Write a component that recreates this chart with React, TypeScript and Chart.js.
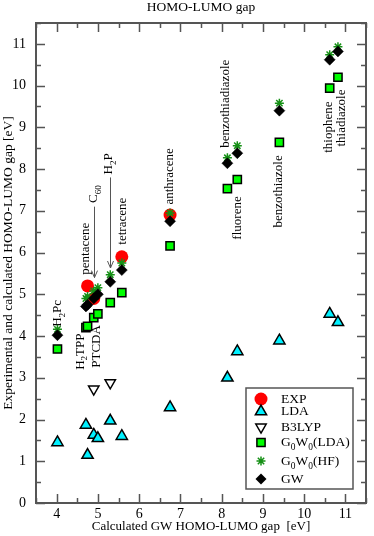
import React, { useEffect, useRef } from 'react';
import { Chart, registerables } from 'chart.js';

Chart.register(...registerables);

const FONT = '"Liberation Serif", "Times New Roman", serif';

// molecules, ordered by GW gap
const molecules = ['H2Pc', 'H2TPP', 'pentacene', 'C60', 'PTCDA', 'H2P', 'tetracene', 'anthracene', 'fluorene', 'benzothiadiazole', 'benzothiazole', 'thiophene', 'thiadiazole'];
// calculated GW HOMO-LUMO gap [eV] (x axis, and GW series)
const gwGap = [4.02, 4.71, 4.75, 4.9, 5.0, 5.3, 5.58, 6.75, 8.14, 8.38, 9.4, 10.62, 10.82];
const expGap: (number | null)[] = [null, null, 5.2, 4.9, null, null, 5.9, 6.9, null, null, null, null, null];
const ldaGap = [1.45, 1.87, 1.15, 1.63, 1.55, 1.97, 1.6, 2.29, 3.0, 3.63, 3.89, 4.53, 4.33];
const b3lypGap: (number | null)[] = [null, null, null, 2.73, null, 2.88, null, null, null, null, null, null, null];
const g0w0LdaGap = [3.69, 4.2, 4.23, 4.44, 4.53, 4.8, 5.04, 6.16, 7.53, 7.75, 8.64, 9.94, 10.2];
const g0w0HfGap = [4.16, 4.9, 4.95, 5.08, 5.16, 5.47, 5.75, 6.95, 8.27, 8.56, 9.58, 10.74, 10.93];

const xTicks = [4, 5, 6, 7, 8, 9, 10, 11];
const yTicks = [0, 1, 2, 3, 4, 5, 6, 7, 8, 9, 10, 11];

// rotated molecule labels: text, x (data), y where text starts (data)
const labelText = ['H_2Pc', 'H_2TPP', 'PTCDA', 'pentacene', 'C_{60}', 'H_2P', 'tetracene', 'anthracene', 'fluorene', 'benzothiadiazole', 'benzothiazole', 'thiophene', 'thiadiazole'];
const labelX = [4.02, 4.57, 4.98, 4.69, 4.9, 5.26, 5.6, 6.74, 8.38, 8.1, 9.39, 10.6, 10.9];
const labelY = [4.22, 3.19, 3.24, 5.47, 7.19, 7.87, 6.19, 7.15, 6.31, 8.51, 6.6, 8.39, 8.54];

// arrows: x, from y, to y
const arrowX = [4.9, 5.3];
const arrowFrom = [7.1, 7.8];
const arrowTo = [5.4, 5.63];

const legendNames = ['EXP', 'LDA', 'B3LYP', 'G_0W_0(LDA)', 'G_0W_0(HF)', 'GW'];

const mk = (ys: (number | null)[]) =>
  gwGap.map((x, i) => (ys[i] == null ? null : { x, y: ys[i] as number })).filter((p) => p !== null) as { x: number; y: number }[];

function parseRich(s: string) {
  const segs: { t: string; sub: boolean }[] = [];
  let buf = '';
  let i = 0;
  while (i < s.length) {
    if (s[i] === '_') {
      if (buf) { segs.push({ t: buf, sub: false }); buf = ''; }
      if (s[i + 1] === '{') {
        const j = s.indexOf('}', i);
        segs.push({ t: s.slice(i + 2, j), sub: true });
        i = j + 1;
      } else {
        segs.push({ t: s[i + 1], sub: true });
        i += 2;
      }
    } else {
      buf += s[i];
      i++;
    }
  }
  if (buf) segs.push({ t: buf, sub: false });
  return segs;
}

function drawRich(ctx: CanvasRenderingContext2D, s: string, x: number, y: number, size: number) {
  let cx = x;
  ctx.textAlign = 'left';
  ctx.textBaseline = 'middle';
  for (const seg of parseRich(s)) {
    const fs = seg.sub ? size * 0.7 : size;
    ctx.font = `${fs}px ${FONT}`;
    ctx.fillText(seg.t, cx, y + (seg.sub ? size * 0.38 : 0));
    cx += ctx.measureText(seg.t).width;
  }
}

function drawSymbol(ctx: CanvasRenderingContext2D, kind: number, x: number, y: number) {
  ctx.save();
  ctx.beginPath();
  if (kind === 0) {
    ctx.arc(x, y, 6.5, 0, Math.PI * 2);
    ctx.fillStyle = '#ff0000';
    ctx.fill();
  } else if (kind === 1 || kind === 2) {
    const r = kind === 1 ? 6.5 : 6;
    const s = kind === 1 ? 1 : -1;
    for (let k = 0; k < 3; k++) {
      const a = (k * 2 * Math.PI) / 3;
      const px = x + Math.sin(a) * r;
      const py = y - s * Math.cos(a) * r;
      if (k === 0) ctx.moveTo(px, py); else ctx.lineTo(px, py);
    }
    ctx.closePath();
    ctx.fillStyle = kind === 1 ? '#00f0ff' : '#ffffff';
    ctx.fill();
    ctx.lineWidth = 1.5;
    ctx.strokeStyle = '#000';
    ctx.stroke();
  } else if (kind === 3) {
    const h = 5.8 * Math.SQRT1_2;
    ctx.rect(x - h, y - h, 2 * h, 2 * h);
    ctx.fillStyle = '#00ff00';
    ctx.fill();
    ctx.lineWidth = 1.5;
    ctx.strokeStyle = '#000';
    ctx.stroke();
  } else if (kind === 4) {
    const r = 4.5;
    for (let k = 0; k < 4; k++) {
      const a = (k * Math.PI) / 4;
      ctx.moveTo(x - Math.cos(a) * r, y - Math.sin(a) * r);
      ctx.lineTo(x + Math.cos(a) * r, y + Math.sin(a) * r);
    }
    ctx.lineWidth = 1.5;
    ctx.strokeStyle = '#159015';
    ctx.stroke();
  } else {
    const r = 5.5;
    ctx.moveTo(x, y - r);
    ctx.lineTo(x + r, y);
    ctx.lineTo(x, y + r);
    ctx.lineTo(x - r, y);
    ctx.closePath();
    ctx.fillStyle = '#000';
    ctx.fill();
  }
  ctx.restore();
}

const decorPlugin = {
  id: 'decor',
  beforeDatasetsDraw(chart: any) {
    const { ctx, chartArea: a, scales } = chart;
    const xs = scales.x;
    const ys = scales.y;
    ctx.save();
    ctx.strokeStyle = '#555';
    ctx.lineWidth = 1.5;
    ctx.beginPath();
    for (let v = 3.5; v <= 11.5001; v += 0.5) {
      const major = Math.abs(v - Math.round(v)) < 1e-6;
      const L = major ? 9 : 5;
      const p = Math.round(xs.getPixelForValue(v)) + 0.5;
      ctx.moveTo(p, a.bottom); ctx.lineTo(p, a.bottom - L);
      ctx.moveTo(p, a.top); ctx.lineTo(p, a.top + L);
    }
    for (let v = 0; v <= 11.5001; v += 0.5) {
      const major = Math.abs(v - Math.round(v)) < 1e-6;
      const L = major ? 9 : 5;
      const p = Math.round(ys.getPixelForValue(v)) + 0.5;
      ctx.moveTo(a.left, p); ctx.lineTo(a.left + L, p);
      ctx.moveTo(a.right, p); ctx.lineTo(a.right - L, p);
    }
    ctx.stroke();
    ctx.lineWidth = 2;
    ctx.strokeRect(a.left, a.top, a.right - a.left, a.bottom - a.top);

    // title
    ctx.fillStyle = '#000';
    ctx.font = `13.5px ${FONT}`;
    ctx.textAlign = 'center';
    ctx.textBaseline = 'alphabetic';
    ctx.fillText('HOMO-LUMO gap', (a.left + a.right) / 2, 11);

    // arrows
    ctx.strokeStyle = '#555';
    ctx.lineWidth = 1;
    for (let i = 0; i < arrowX.length; i++) {
      const px = Math.round(xs.getPixelForValue(arrowX[i])) + 0.5;
      const y1 = ys.getPixelForValue(arrowFrom[i]);
      const y2 = ys.getPixelForValue(arrowTo[i]);
      ctx.beginPath();
      ctx.moveTo(px, y1); ctx.lineTo(px, y2);
      ctx.moveTo(px - 3, y2 - 7); ctx.lineTo(px, y2); ctx.lineTo(px + 3, y2 - 7);
      ctx.stroke();
    }

    // rotated labels
    ctx.fillStyle = '#000';
    for (let i = 0; i < labelText.length; i++) {
      const px = xs.getPixelForValue(labelX[i]);
      const py = ys.getPixelForValue(labelY[i]);
      ctx.save();
      ctx.translate(px, py);
      ctx.rotate(-Math.PI / 2);
      drawRich(ctx, labelText[i], 0, 0, 13);
      ctx.restore();
    }
    ctx.restore();
  },
  afterDraw(chart: any) {
    const { ctx, chartArea: a } = chart;
    ctx.save();
    const bx = a.right - 120, by = a.bottom - 115, bw = 107, bh = 101;
    ctx.fillStyle = '#fff';
    ctx.fillRect(bx, by, bw, bh);
    ctx.strokeStyle = '#555';
    ctx.lineWidth = 1.5;
    ctx.strokeRect(bx, by, bw, bh);
    const rowY = [11, 23.5, 39, 54.5, 73, 91];
    ctx.fillStyle = '#000';
    for (let i = 0; i < legendNames.length; i++) {
      drawSymbol(ctx, i, bx + 15, by + rowY[i]);
      ctx.fillStyle = '#000';
      drawRich(ctx, legendNames[i], bx + 35, by + rowY[i], 13.5);
    }
    ctx.restore();
  },
};

export default function App() {
  const ref = useRef<HTMLCanvasElement | null>(null);
  useEffect(() => {
    if (!ref.current) return;
    const tickFont = { family: FONT, size: 14 };
    const chart = new Chart(ref.current, {
      type: 'scatter',
      data: {
        datasets: [
          { label: 'GW', data: mk(gwGap), pointStyle: 'rectRot', pointRadius: 5.5, backgroundColor: '#000', borderColor: '#000', borderWidth: 0.5, order: 0 },
          { label: 'G0W0(HF)', data: mk(g0w0HfGap), pointStyle: 'star', pointRadius: 4.5, backgroundColor: '#159015', borderColor: '#159015', borderWidth: 1.5, order: 1 },
          { label: 'G0W0(LDA)', data: mk(g0w0LdaGap), pointStyle: 'rect', pointRadius: 5.8, backgroundColor: '#00ff00', borderColor: '#000', borderWidth: 1.5, order: 2 },
          { label: 'B3LYP', data: mk(b3lypGap), pointStyle: 'triangle', rotation: 180, pointRadius: 6, backgroundColor: '#fff', borderColor: '#000', borderWidth: 1.5, order: 3 },
          { label: 'LDA', data: mk(ldaGap), pointStyle: 'triangle', pointRadius: 6.5, backgroundColor: '#00f0ff', borderColor: '#000', borderWidth: 1.5, order: 4 },
          { label: 'EXP', data: mk(expGap), pointStyle: 'circle', pointRadius: 6.5, backgroundColor: '#ff0000', borderColor: '#ff0000', borderWidth: 0, order: 5 },
        ] as any,
      },
      options: {
        animation: false,
        responsive: false,
        events: [],
        layout: { padding: { top: 23, right: 2, left: 0, bottom: 0 } },
        plugins: { legend: { display: false }, tooltip: { enabled: false }, title: { display: false } },
        scales: {
          x: {
            type: 'linear',
            min: 3.5,
            max: 11.5,
            afterBuildTicks: (s: any) => { s.ticks = xTicks.map((v) => ({ value: v })); },
            afterFit: (s: any) => { s.height = 33; },
            ticks: { font: tickFont, color: '#000', padding: 3, maxRotation: 0, autoSkip: false },
            grid: { display: false, drawTicks: false },
            border: { display: false },
            title: { display: true, text: 'Calculated GW HOMO-LUMO gap  [eV]', font: { family: FONT, size: 13 }, color: '#000', padding: { top: 0, bottom: 2 } },
          },
          y: {
            type: 'linear',
            min: 0,
            max: 11.5,
            afterBuildTicks: (s: any) => { s.ticks = yTicks.map((v) => ({ value: v })); },
            afterFit: (s: any) => { s.width = 36; },
            ticks: { font: tickFont, color: '#000', padding: 10, autoSkip: false },
            grid: { display: false, drawTicks: false },
            border: { display: false },
            title: { display: true, text: 'Experimental and calculated HOMO-LUMO gap [eV]', font: { family: FONT, size: 13.5 }, color: '#000', padding: { top: 0, bottom: 0 } },
          },
        },
      } as any,
      plugins: [decorPlugin],
    });
    return () => chart.destroy();
  }, []);
  return (
    <div style={{ position: 'absolute', left: 0, top: 0, width: 374, height: 536, background: '#fff' }}>
      <canvas ref={ref} width={374} height={536} style={{ display: 'block' }} />
    </div>
  );
}
